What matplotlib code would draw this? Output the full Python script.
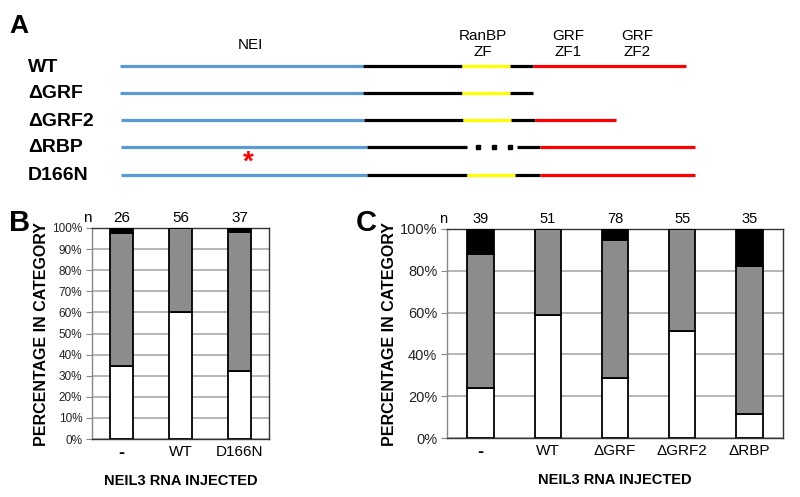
import matplotlib.pyplot as plt
import numpy as np

plt.rcParams['font.family'] = ['Liberation Sans', 'DejaVu Sans']

# --- panel A: domain schematic (boundaries in schematic units) ---
constructs = ['WT', '\u0394GRF', '\u0394GRF2', '\u0394RBP', 'D166N']
BLUE = '#5b9bd5'
YELLOW = '#ffff00'
segments = {
    'WT':     [(120, 363, BLUE), (363, 462, 'black'), (462, 510, YELLOW), (510, 533, 'black'), (533, 686, 'red')],
    '\u0394GRF':   [(120, 363, BLUE), (363, 462, 'black'), (462, 510, YELLOW), (510, 533, 'black')],
    '\u0394GRF2':  [(121, 364, BLUE), (364, 463, 'black'), (463, 511, YELLOW), (511, 535, 'black'), (535, 616, 'red')],
    '\u0394RBP':   [(121, 367, BLUE), (367, 467, 'black'), (517, 540, 'black'), (540, 695, 'red')],
    'D166N':  [(121, 367, BLUE), (367, 467, 'black'), (467, 515, YELLOW), (515, 540, 'black'), (540, 695, 'red')],
}
dots_rbp = [478, 494, 510]
row_y = [66, 93, 120, 147, 175]
mutation_pos = 248

# --- panel B ---
b_cats = ['-', 'WT', 'D166N']
b_n = [26, 56, 37]
b_white = [34.5, 60, 32]
b_gray = [63, 40, 66]
b_black = [2.5, 0, 2]

# --- panel C ---
c_cats = ['-', 'WT', '\u0394GRF', '\u0394GRF2', '\u0394RBP']
c_n = [39, 51, 78, 55, 35]
c_white = [24, 59, 28.5, 51, 11.5]
c_gray = [64, 41, 66, 49, 71]
c_black = [12, 0, 5.5, 0, 17.5]

fig = plt.figure(figsize=(8, 4.97), dpi=100)

axA = fig.add_axes([0, 1 - 200 / 497, 1, 200 / 497])
axA.set_xlim(0, 800)
axA.set_ylim(200, 0)
axA.axis('off')
for name, y in zip(constructs, row_y):
    for x0, x1, col in segments[name]:
        axA.plot([x0, x1], [y, y], color=col, lw=2.3, solid_capstyle='butt')
    axA.text(28, y + 1, name, fontsize=14, fontweight='bold', va='center', ha='left')
axA.plot(dots_rbp, [row_y[3]] * 3, 's', color='black', ms=2.5)
axA.text(mutation_pos, row_y[4] - 12, '*', color='red', fontsize=20, fontweight='bold', ha='center', va='center')
axA.text(9, 26, 'A', fontsize=19, fontweight='bold', va='center')
axA.text(250, 45, 'NEI', fontsize=11, ha='center', va='center')
axA.text(483, 44, 'RanBP\nZF', fontsize=11, ha='center', va='center', linespacing=1.25)
axA.text(568, 44, 'GRF\nZF1', fontsize=11, ha='center', va='center', linespacing=1.25)
axA.text(637, 44, 'GRF\nZF2', fontsize=11, ha='center', va='center', linespacing=1.25)


def stacked(ax, cats, white, gray, black, n, width, step, tick_fs, n_fs, cat_fs):
    x = np.arange(len(cats))
    w = np.array(white)
    g = np.array(gray)
    b = np.array(black)
    ax.yaxis.grid(True, color='#b0b0b0', lw=1.3)
    ax.set_axisbelow(True)
    ax.bar(x, w, width, color='white', edgecolor='black', lw=1.3, zorder=3)
    ax.bar(x, g, width, bottom=w, color='#8c8c8c', edgecolor='black', lw=1.3, zorder=3)
    ax.bar(x, b, width, bottom=w + g, color='black', edgecolor='black', lw=1.3, zorder=3)
    ax.set_xlim(-0.5, len(cats) - 0.5)
    ax.set_ylim(0, 100)
    ticks = np.arange(0, 101, step)
    ax.set_yticks(ticks)
    ax.set_yticklabels([f'{t}%' for t in ticks], fontsize=tick_fs, color='#222222')
    ax.set_xticks(x)
    labels = ax.set_xticklabels(cats, fontsize=cat_fs)
    for lab in labels:
        if lab.get_text() == '-':
            lab.set_fontweight('bold')
            lab.set_fontsize(cat_fs + 2)
    ax.tick_params(axis='x', length=0, pad=4)
    ax.tick_params(axis='y', length=4, color='#888888', pad=3)
    for s in ax.spines.values():
        s.set_color('#333333')
        s.set_linewidth(1)
    ax.spines['left'].set_color('#888888')
    for xi, ni in zip(x, n):
        ax.text(xi, 101.5, str(ni), ha='center', va='bottom', fontsize=n_fs)
    ax.text(-0.5, 101.5, 'n', ha='right', va='bottom', fontsize=n_fs)
    ax.set_ylabel('PERCENTAGE IN CATEGORY', fontsize=11.5, fontweight='bold', labelpad=2)
    ax.set_xlabel('NEIL3 RNA INJECTED', fontsize=10.5, fontweight='bold', labelpad=9)


axB = fig.add_axes([92 / 800, (497 - 439) / 497, 177 / 800, 211 / 497])
stacked(axB, b_cats, b_white, b_gray, b_black, b_n, 0.4, 10, 8.5, 11, 11)
fig.text(9 / 800, 1 - 223 / 497, 'B', fontsize=21, fontweight='bold', va='center')

axC = fig.add_axes([447 / 800, (497 - 438) / 497, 336 / 800, 209 / 497])
stacked(axC, c_cats, c_white, c_gray, c_black, c_n, 0.39, 20, 10.5, 10.5, 11)
fig.text(356 / 800, 1 - 223 / 497, 'C', fontsize=21, fontweight='bold', va='center')

fig.savefig('out.png', dpi=100)
